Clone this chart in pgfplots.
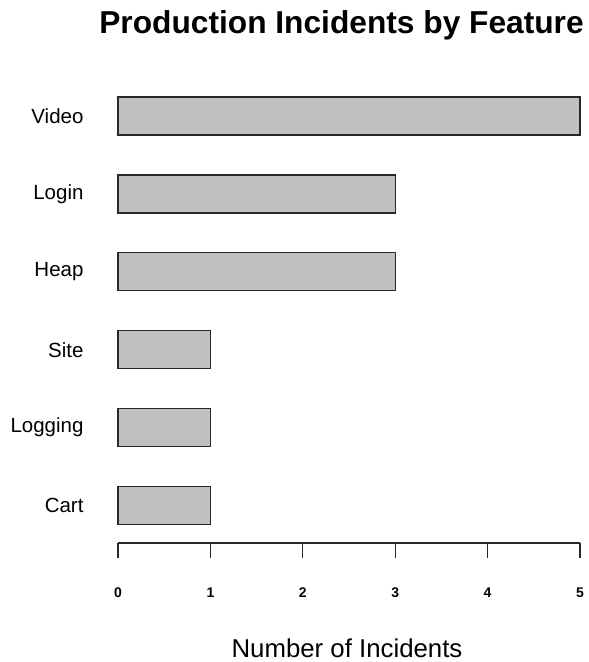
\documentclass[border=0pt]{standalone}
\usepackage{pgfplots}
\pgfplotsset{compat=1.18}
\usepackage{fontspec}
\setmainfont{Liberation Sans}
\definecolor{barfill}{RGB}{192,192,192}
\definecolor{edge}{RGB}{40,40,40}
\begin{document}
\begin{tikzpicture}
\useasboundingbox (0,0) rectangle (589bp,-662bp);
\begin{axis}[
  at={(118bp,-543bp)}, anchor=south west,
  scale only axis,
  width=462bp, height=446bp,
  xmin=0, xmax=5, ymin=-0.48, ymax=5.244,
  axis x line*=bottom,
  axis y line*=left,
  y axis line style={draw=none},
  x axis line style={line width=1.2bp, color=edge},
  ytick={0,1,2,3,4,5},
  yticklabels={Cart,Logging,Site,Heap,Login,Video},
  ytick style={draw=none},
  yticklabel style={font=\fontsize{20.5bp}{23bp}\selectfont, anchor=east, xshift=-16bp},
  xtick={0,1,2,3,4,5},
  tick align=outside,
  major tick length=15bp,
  xtick style={line width=1.2bp, color=edge},
  xticklabel style={font=\bfseries\fontsize{14bp}{16bp}\selectfont, yshift=-26bp},
  /pgf/number format/assume math mode=true,
  xbar, bar width=38bp,
  clip=false,
]
\addplot[fill=barfill, draw=edge, line width=1.2bp] coordinates {
  (1,0) (1,1) (1,2) (3,3) (3,4) (5,5)
};
\end{axis}
\node[font=\bfseries\fontsize{31.7bp}{36bp}\selectfont, anchor=base] at (341.5bp,-33bp) {Production Incidents by Feature};
\node[font=\fontsize{25.8bp}{29bp}\selectfont, anchor=base] at (347bp,-657bp) {Number of Incidents};
\end{tikzpicture}
\end{document}
